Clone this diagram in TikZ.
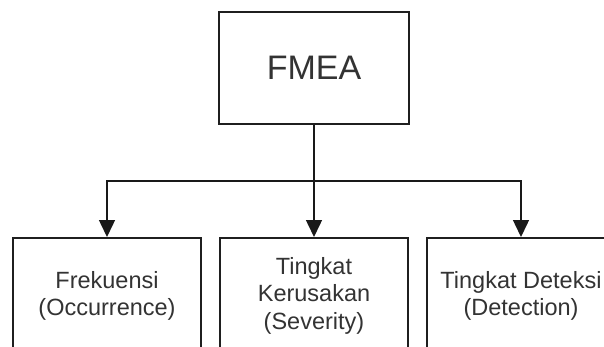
\documentclass[tikz,border=0pt]{standalone}
\usepackage{fontspec}
\setmainfont{Liberation Sans}
\usetikzlibrary{arrows.meta}
\begin{document}
\begin{tikzpicture}[x=1pt,y=-1pt,
  box/.style={draw=black!88, line width=1.5pt, fill=white, align=center, inner sep=0pt, text=black!80},
  subbox/.style={box, anchor=north, minimum width=188pt, minimum height=116pt, font=\fontsize{23.5}{27.5}\selectfont},
  conn/.style={draw=black!90, line width=1.5pt},
  arr/.style={conn, -{Triangle[width=16pt,length=17pt]}}]
\useasboundingbox (0,0) rectangle (604,347);
\clip (0,0) rectangle (604,347);
\fill[white] (0,0) rectangle (604,347);
\node[box, minimum width=190pt, minimum height=112pt, font=\fontsize{34}{40}\selectfont] (fmea) at (314,68) {FMEA};
\node[subbox] (occ) at (107,237) {Frekuensi\\(Occurrence)};
\node[subbox] (sev) at (314,237) {Tingkat\\Kerusakan\\(Severity)};
\node[subbox] (det) at (521,237) {Tingkat Deteksi\\(Detection)};
\coordinate (j) at (314,181);
\draw[conn] (fmea.south) -- (j);
\draw[arr] (j) -| (occ.north);
\draw[arr] (j) -| (det.north);
\draw[arr] (j) -- (sev.north);
\end{tikzpicture}
\end{document}
